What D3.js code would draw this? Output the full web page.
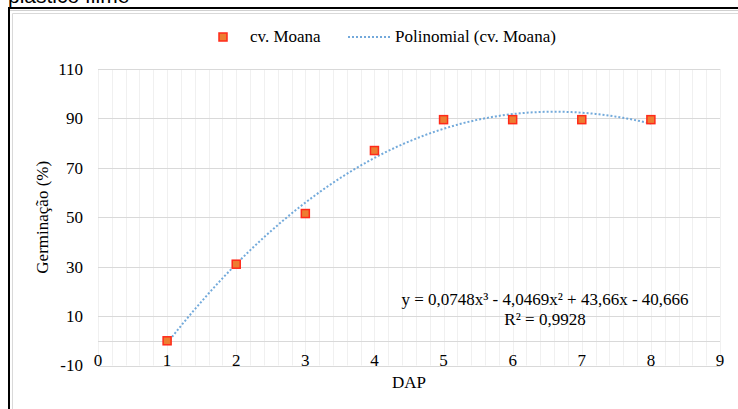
<!DOCTYPE html>
<html>
<head>
<meta charset="utf-8">
<script src="https://cdn.jsdelivr.net/npm/d3@7"></script>
<style>
  body { margin: 0; background: #fff; }
  svg { display: block; }
  text { font-family: "Liberation Serif", "Times New Roman", serif; font-size: 17px; fill: #000; }
</style>
</head>
<body>
<div id="chart"></div>
<script>
// data
var dap = [1, 2, 3, 4, 5, 6, 7, 8];
var germinacao = [0, 31, 51.5, 77, 89.5, 89.5, 89.5, 89.5];
// trendline coefficients as printed on the chart (a3, a2, a1, a0)
var trendCoef = [0.0748, -4.0469, 43.66, -40.666];
var xTicks = [0, 1, 2, 3, 4, 5, 6, 7, 8, 9];
var yTicks = [-10, 10, 30, 50, 70, 90, 110];
var equationLines = ["y = 0,0748x³ - 4,0469x² + 43,66x - 40,666", "R² = 0,9928"];

var width = 738, height = 409;

var svg = d3.select("#chart").append("svg")
    .attr("width", width)
    .attr("height", height);

// cut-off caption from the document above
svg.append("text")
    .attr("x", 8).attr("y", 3)
    .style("font-family", "'Liberation Sans', Arial, sans-serif")
    .style("font-size", "21px")
    .text("plástico filme");

// document box
svg.append("line").attr("x1", 8).attr("x2", width).attr("y1", 8).attr("y2", 8)
    .attr("stroke", "#000").attr("stroke-width", 2);
svg.append("line").attr("x1", 9).attr("x2", 9).attr("y1", 8).attr("y2", height)
    .attr("stroke", "#000").attr("stroke-width", 2);
svg.append("line").attr("x1", 10).attr("x2", width).attr("y1", 10.5).attr("y2", 10.5)
    .attr("stroke", "#d0d0d0").attr("stroke-width", 1);
// chart area border
svg.append("path")
    .attr("d", "M12.5," + height + "V13.5H" + width)
    .attr("fill", "none").attr("stroke", "#d9d9d9");

var x = d3.scaleLinear().domain([0, 9]).range([98, 720]);
var y = d3.scaleLinear().domain([-10, 110]).range([365.5, 69]);

// minor vertical gridlines every 0.2
var minor = d3.range(0, 45.1, 1).map(function(i) { return i / 5; });
svg.append("g").selectAll("line")
    .data(minor)
    .enter().append("line")
    .attr("x1", function(d) { return Math.round(x(d)) + 0.5; })
    .attr("x2", function(d) { return Math.round(x(d)) + 0.5; })
    .attr("y1", y(110)).attr("y2", y(-10))
    .attr("stroke", "#f0f0f0");

// major horizontal gridlines
svg.append("g").selectAll("line")
    .data(yTicks.concat([0]))
    .enter().append("line")
    .attr("x1", x(0)).attr("x2", x(9))
    .attr("y1", function(d) { return Math.round(y(d)) + 0.5; })
    .attr("y2", function(d) { return Math.round(y(d)) + 0.5; })
    .attr("stroke", "#d9d9d9");

// y tick labels
svg.append("g").selectAll("text")
    .data(yTicks)
    .enter().append("text")
    .attr("x", 83)
    .attr("y", function(d) { return y(d); })
    .attr("dy", "0.35em")
    .attr("text-anchor", "end")
    .text(function(d) { return d; });

// x tick labels
svg.append("g").selectAll("text")
    .data(xTicks)
    .enter().append("text")
    .attr("x", function(d) { return x(d); })
    .attr("y", 366)
    .attr("text-anchor", "middle")
    .text(function(d) { return d; });

// axis titles
svg.append("text")
    .attr("x", x(4.5)).attr("y", 388)
    .attr("text-anchor", "middle")
    .text("DAP");
svg.append("text")
    .attr("transform", "translate(48," + y(50) + ") rotate(-90)")
    .attr("text-anchor", "middle")
    .text("Germinação (%)");

// polynomial trendline
function poly(v) {
    return trendCoef[0] * v * v * v + trendCoef[1] * v * v + trendCoef[2] * v + trendCoef[3];
}
var xs = d3.range(dap[0], dap[dap.length - 1] + 0.001, 0.05);
var line = d3.line()
    .x(function(d) { return x(d); })
    .y(function(d) { return y(poly(d)); })
    .curve(d3.curveLinear);
svg.append("path")
    .datum(xs)
    .attr("d", line)
    .attr("fill", "none")
    .attr("stroke", "#5b9bd5")
    .attr("stroke-width", 2)
    .attr("stroke-dasharray", "2,2")
    .attr("opacity", 0.85);

// data points
var ms = 8;
svg.append("g").selectAll("rect")
    .data(dap)
    .enter().append("rect")
    .attr("x", function(d) { return x(d) - ms / 2; })
    .attr("y", function(d, i) { return y(germinacao[i]) - ms / 2; })
    .attr("width", ms).attr("height", ms)
    .attr("fill", "#ed7d31")
    .attr("stroke", "#ff2a1a")
    .attr("stroke-width", 1.5);

// equation
svg.append("text")
    .attr("text-anchor", "middle")
    .selectAll("tspan")
    .data(equationLines)
    .enter().append("tspan")
    .attr("x", 545)
    .attr("y", function(d, i) { return 305 + i * 20; })
    .text(function(d) { return d; });

// legend
var lg = svg.append("g");
lg.append("rect")
    .attr("x", 223 - ms / 2).attr("y", 37 - ms / 2)
    .attr("width", ms).attr("height", ms)
    .attr("fill", "#ed7d31")
    .attr("stroke", "#ff2a1a")
    .attr("stroke-width", 1.5);
lg.append("text").attr("x", 250).attr("y", 42).text("cv. Moana");
lg.append("line")
    .attr("x1", 348).attr("x2", 390).attr("y1", 37).attr("y2", 37)
    .attr("stroke", "#5b9bd5")
    .attr("stroke-width", 2)
    .attr("stroke-dasharray", "2,2")
    .attr("opacity", 0.85);
lg.append("text").attr("x", 395).attr("y", 42).text("Polinomial (cv. Moana)");
</script>
</body>
</html>
